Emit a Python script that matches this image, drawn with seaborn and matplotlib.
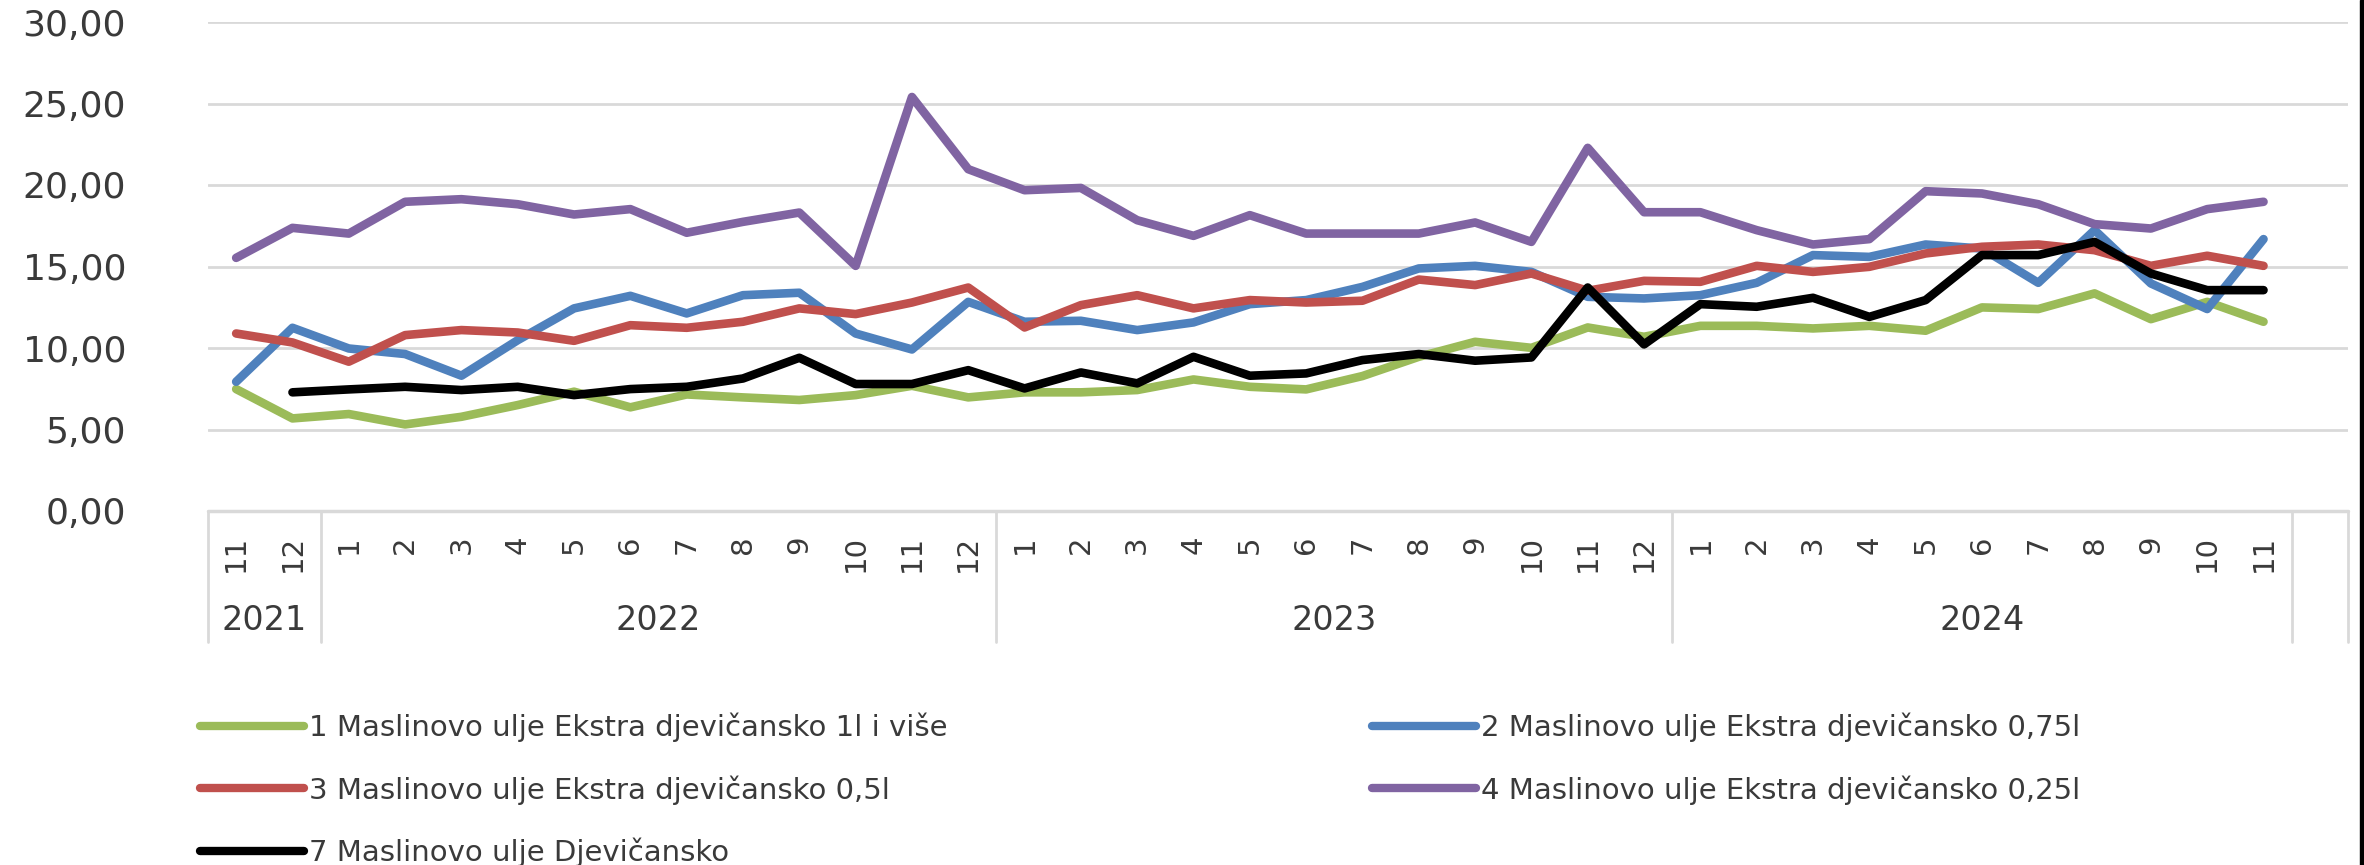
import numpy as np
import pandas as pd
import matplotlib
matplotlib.use("Agg")
import matplotlib.pyplot as plt
from matplotlib.lines import Line2D
from matplotlib.patches import Rectangle
import seaborn as sns

# ---------------- data ----------------
months = ["11", "12"] + [str(m) for m in range(1, 13)] * 2 + [str(m) for m in range(1, 12)]
years = ["2021", "2022", "2023", "2024"]
year_counts = [2, 12, 12, 11]

series_names = [
    "1 Maslinovo ulje Ekstra djevičansko 1l i više",
    "2 Maslinovo ulje Ekstra djevičansko 0,75l",
    "3 Maslinovo ulje Ekstra djevičansko 0,5l",
    "4 Maslinovo ulje Ekstra djevičansko 0,25l",
    "7 Maslinovo ulje Djevičansko",
]

s1_extra_1l = [7.48, 5.68, 5.95, 5.31, 5.78, 6.50, 7.32, 6.36, 7.15, 6.97, 6.81, 7.11, 7.68,
               6.97, 7.28, 7.28, 7.42, 8.07, 7.62, 7.46, 8.28, 9.46, 10.38, 10.01, 11.26,
               10.69, 11.36, 11.36, 11.20, 11.36, 11.06, 12.49, 12.39, 13.35, 11.77, 12.83, 11.61]
s2_extra_075 = [7.93, 11.24, 9.97, 9.63, 8.30, 10.48, 12.43, 13.20, 12.12, 13.24, 13.39, 10.89, 9.91,
                12.83, 11.61, 11.67, 11.10, 11.57, 12.69, 12.94, 13.75, 14.88, 15.04, 14.67, 13.14,
                13.04, 13.24, 14.00, 15.70, 15.59, 16.35, 16.10, 14.00, 17.23, 13.96, 12.39, 16.68]
s3_extra_05 = [10.89, 10.34, 9.16, 10.79, 11.10, 10.95, 10.44, 11.40, 11.24, 11.61, 12.43, 12.08, 12.79,
               13.71, 11.26, 12.63, 13.24, 12.43, 12.94, 12.79, 12.90, 14.20, 13.86, 14.57, 13.51,
               14.12, 14.06, 15.04, 14.67, 14.98, 15.80, 16.21, 16.35, 16.00, 15.04, 15.66, 15.04]
s4_extra_025 = [15.53, 17.37, 17.02, 18.97, 19.13, 18.82, 18.19, 18.52, 17.07, 17.74, 18.31, 15.04, 25.40,
                20.97, 19.68, 19.82, 17.84, 16.88, 18.15, 17.02, 17.02, 17.02, 17.70, 16.51, 22.28,
                18.33, 18.33, 17.23, 16.35, 16.68, 19.62, 19.48, 18.82, 17.60, 17.33, 18.52, 18.97]
s7_djevicansko = [np.nan, 7.28, 7.46, 7.62, 7.42, 7.62, 7.11, 7.48, 7.62, 8.13, 9.40, 7.79, 7.79,
                  8.64, 7.52, 8.50, 7.83, 9.46, 8.30, 8.44, 9.26, 9.63, 9.22, 9.42, 13.71,
                  10.22, 12.69, 12.53, 13.08, 11.91, 12.94, 15.70, 15.70, 16.51, 14.57, 13.55, 13.55]

ytick_values = [0, 5, 10, 15, 20, 25, 30]
ytick_labels = ["0,00", "5,00", "10,00", "15,00", "20,00", "25,00", "30,00"]

colors = ["#9BBB59", "#4F81BD", "#C0504D", "#8064A2", "#000000"]

# ---------------- build long table ----------------
all_series = [s1_extra_1l, s2_extra_075, s3_extra_05, s4_extra_025, s7_djevicansko]
frames = []
for name, vals in zip(series_names, all_series):
    frames.append(pd.DataFrame({"idx": np.arange(len(vals)), "value": vals, "series": name}))
df = pd.concat(frames, ignore_index=True).dropna()

# ---------------- figure ----------------
sns.set_theme(style="white")
plt.rcParams["font.family"] = ["DejaVu Sans"]
text_color = "#3a3a3a"
grid_color = "#D9D9D9"

W, H = 2364, 865
fig = plt.figure(figsize=(W / 100, H / 100), dpi=100)
ax_l, ax_r, ax_t, ax_b = 208, 2348, 22, 511
ax = fig.add_axes([ax_l / W, 1 - ax_b / H, (ax_r - ax_l) / W, (ax_b - ax_t) / H])

n_slots = len(months) + 1
ax.set_xlim(-0.5, n_slots - 0.5)
ax.set_ylim(0, 30)

for y in ytick_values[1:]:
    ax.axhline(y, color=grid_color, lw=2.0, zorder=0)
ax.axhline(0, color=grid_color, lw=2.5, zorder=0, clip_on=False)

sns.lineplot(data=df, x="idx", y="value", hue="series", palette=dict(zip(series_names, colors)),
             hue_order=series_names, linewidth=6.2, legend=False, ax=ax, sort=True,
             estimator=None)
for line in ax.get_lines():
    line.set_solid_joinstyle("round")
    line.set_solid_capstyle("round")

for s in ax.spines.values():
    s.set_visible(False)

ax.set_xlabel("")
ax.set_ylabel("")
ax.set_yticks(ytick_values)
ax.set_yticklabels(ytick_labels, fontsize=26, color=text_color)
ax.tick_params(axis="y", length=0, pad=59)
ax.set_xticks([])

# category axis (two-level)
trans = ax.get_xaxis_transform()
bottom_frac = -(642 - 511) / (511 - 22)
month_top = -(535 - 511) / (511 - 22)
year_y = -(621 - 511) / (511 - 22)
for i, m in enumerate(months):
    ax.text(i, month_top, m, transform=trans, rotation=90, ha="center", va="top",
            fontsize=21, color=text_color, clip_on=False)
start = 0
bounds = [-0.5]
for yl, cnt in zip(years, year_counts):
    center = start + (cnt - 1) / 2
    ax.text(center, year_y, yl, transform=trans, ha="center", va="center",
            fontsize=24, color=text_color, clip_on=False)
    start += cnt
    bounds.append(start - 0.5)
bounds.append(n_slots - 0.5)
for b in bounds:
    ax.plot([b, b], [0, bottom_frac], transform=trans, color=grid_color, lw=2.0, clip_on=False)

# legend
handles = [Line2D([0], [0], color=c, lw=6.0, solid_capstyle="round") for c in colors]
leg_kw = dict(frameon=False, fontsize=21, handlelength=3.56, handletextpad=0.17,
              labelspacing=1.12, borderpad=0, borderaxespad=0, loc="upper left", labelcolor=text_color)
leg1 = fig.legend([handles[0], handles[2], handles[4]],
                  [series_names[0], series_names[2], series_names[4]],
                  bbox_to_anchor=(200 / W, 1 - 713 / H), **leg_kw)
leg2 = fig.legend([handles[1], handles[3]], [series_names[1], series_names[3]],
                  bbox_to_anchor=(1372 / W, 1 - 713 / H), **leg_kw)

fig.add_artist(Rectangle((2360 / W, 0), 4 / W, 1, transform=fig.transFigure, color="black"))

fig.savefig("out.png", dpi=100)
